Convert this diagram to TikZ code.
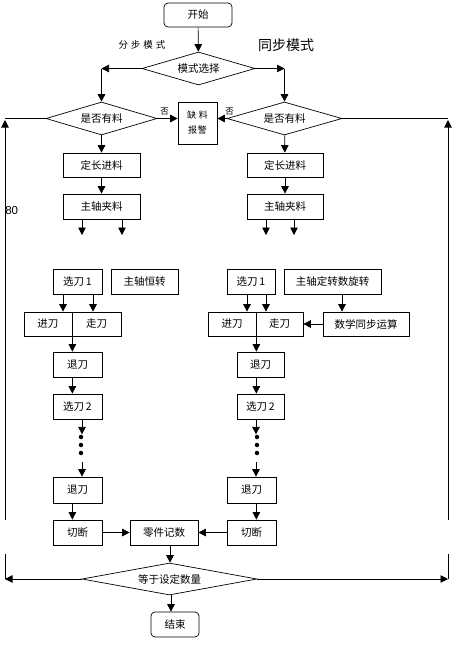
\documentclass[tikz,border=0pt]{standalone}
\usepackage{fontspec}
\setmainfont{Noto Sans CJK SC}
\newfontfamily\latinfont{Liberation Sans}
\usetikzlibrary{arrows.meta, shapes.geometric, calc}
\tikzset{
  box/.style={draw, rectangle, inner sep=0pt, minimum height=25pt, font=\fontsize{10.5}{12}\selectfont},
  term/.style={box, rounded corners=4pt},
  decide/.style={draw, diamond, aspect=3, inner sep=0pt, font=\fontsize{10.5}{12}\selectfont},
  flow/.style={-{Triangle[length=7.5pt,width=7.5pt]}},
  dot/.style={circle, fill, inner sep=0pt, minimum size=4.5pt},
  lbl/.style={inner sep=0pt},
}

\begin{document}
\begin{tikzpicture}[x=1pt, y=-1pt, line width=0.7pt]
  \useasboundingbox (0,0) rectangle (456,649);

  % top: start and mode choice
  \node[term, minimum width=68pt, minimum height=24pt] (start) at (198,15) {开始};
  \node[decide, minimum width=113pt, minimum height=33pt] (mode) at (198.5,68.5) {模式选择};
  \node[lbl, font=\fontsize{9.5}{11}\selectfont] (stepmode) at (142,45) {分\hspace{3pt}步\hspace{3pt}模\hspace{3pt}式};
  \node[lbl, font=\fontsize{14}{15}\selectfont] (syncmode) at (286,45) {同步模式};
  \coordinate (modeL) at (101.5,68.5);
  \coordinate (modeR) at (284.5,68.5);

  \node[decide, minimum width=111pt, minimum height=33pt] (checkL) at (101.5,118.5) {是否有料};
  \node[decide, minimum width=115pt, minimum height=33pt] (checkR) at (284.5,118.5) {是否有料};
  \node[box, minimum width=39pt, minimum height=42pt, align=center, font=\fontsize{9}{15}\selectfont] (alarm) at (197.5,123) {缺\hspace{3pt}料\\报\hspace{1pt}警};
  \node[lbl, font=\fontsize{8.5}{9}\selectfont] (noL) at (164.5,111.5) {否};
  \node[lbl, font=\fontsize{8.5}{9}\selectfont] (noR) at (229.5,111.5) {否};

  \draw[flow] (start) -- (mode);
  \draw[flow] (mode.west) -- (modeL);
  \draw[flow] (modeL) -- (checkL.north);
  \draw[flow] (mode.east) -- (modeR);
  \draw[flow] (modeR) -- (checkR.north);
  \draw[flow] (checkL.east) -- (alarm.west |- checkL.east);
  \draw[flow] (checkR.west) -- (alarm.east |- checkR.west);

  % left column (step mode)
  \node[box, minimum width=77pt, minimum height=24pt] (feedL) at (101.5,165) {定长进料};
  \node[box, minimum width=77pt] (clampL) at (101.5,206.5) {主轴夹料};
  \coordinate (outL1) at (82,235);
  \coordinate (outL2) at (122,235);
  \node[box, minimum width=49pt] (selL) at (77.5,281.5) {选刀\,1};
  \node[box, minimum width=67pt] (turnL) at (144.5,281.5) {主轴恒转};
  \node[box, minimum width=48pt, minimum height=24pt] (inL) at (48,324) {进刀};
  \node[box, minimum width=49pt, minimum height=24pt] (goL) at (96.5,324) {走刀};
  \node[box, minimum width=49pt] (backL) at (77.5,364.5) {退刀};
  \node[box, minimum width=49pt] (selbL) at (77.5,406.5) {选刀\,2};
  \node[dot] (dotL1) at (81,437) {};
  \node[dot] (dotL2) at (81,445) {};
  \node[dot] (dotL3) at (81,453) {};
  \coordinate (gapL) at (82,462);
  \node[box, minimum width=49pt, minimum height=26pt] (backbL) at (77.5,490) {退刀};
  \node[box, minimum width=49pt] (cutL) at (77.5,532.5) {切断};

  \draw[flow] (checkL) -- (feedL);
  \draw[flow] (feedL) -- (clampL);
  \draw[flow] (clampL.south -| outL1) -- (outL1);
  \draw[flow] (clampL.south -| outL2) -- (outL2);
  \draw[flow] (selL.south -| 63,0) -- (inL.north -| 63,0);
  \draw[flow] (selL.south -| 93,0) -- (goL.north -| 93,0);
  \draw[flow] (inL.south east) -- (backL.north -| inL.east);
  \draw[flow] (backL.south -| inL.east) -- (selbL.north -| inL.east);
  \draw[flow] (selbL.south -| gapL) -- (dotL1.north -| gapL);
  \draw[flow] (gapL) -- (backbL.north -| gapL);
  \draw[flow] (backbL.south -| inL.east) -- (cutL.north -| inL.east);

  % right column (sync mode)
  \node[box, minimum width=76pt, minimum height=24pt] (feedR) at (285,165) {定长进料};
  \node[box, minimum width=76pt] (clampR) at (285,206.5) {主轴夹料};
  \coordinate (outR1) at (266,235);
  \coordinate (outR2) at (294,235);
  \node[box, minimum width=48pt] (selR) at (251,281.5) {选刀\,1};
  \node[box, minimum width=97pt] (turnR) at (332.5,281.5) {主轴定转数旋转};
  \node[box, minimum width=48pt, minimum height=24pt] (inR) at (232,324) {进刀};
  \node[box, minimum width=47pt, minimum height=24pt] (goR) at (279.5,324) {走刀};
  \node[box, minimum width=86pt, minimum height=24pt] (calcR) at (366,324) {数学同步运算};
  \node[box, minimum width=47pt] (backR) at (260.5,364.5) {退刀};
  \node[box, minimum width=47pt] (selbR) at (260.5,406.5) {选刀\,2};
  \node[dot] (dotR1) at (257,437) {};
  \node[dot] (dotR2) at (257,445) {};
  \node[dot] (dotR3) at (257,453) {};
  \coordinate (gapR) at (256,462);
  \node[box, minimum width=49pt, minimum height=26pt] (backbR) at (251.5,490) {退刀};
  \node[box, minimum width=49pt] (cutR) at (251.5,532.5) {切断};

  \draw[flow] (checkR) -- (feedR);
  \draw[flow] (feedR) -- (clampR);
  \draw[flow] (clampR.south -| outR1) -- (outR1);
  \draw[flow] (clampR.south -| outR2) -- (outR2);
  \draw[flow] (selR.south -| 247,0) -- (inR.north -| 247,0);
  \draw[flow] (selR.south -| 266,0) -- (goR.north -| 266,0);
  \draw[flow] (turnR.south -| 342,0) -- (calcR.north -| 342,0);
  \draw[flow] (calcR) -- (goR);
  \draw[flow] (inR.south east) -- (backR.north -| inR.east);
  \draw[flow] (backR.south -| inR.east) -- (selbR.north -| inR.east);
  \draw[flow] (selbR.south -| gapR) -- (dotR1.north -| gapR);
  \draw[flow] (gapR) -- (backbR.north -| gapR);
  \draw[flow] (backbR.south -| inR.east) -- (cutR.north -| inR.east);

  % bottom: count and end
  \node[box, minimum width=68pt] (count) at (164,532.5) {零件记数};
  \node[decide, minimum width=175pt, minimum height=32pt] (equal) at (169.5,579) {等于设定数量};
  \node[term, minimum width=48pt] (end) at (175,624.5) {结束};
  \draw[flow] (cutL) -- (count);
  \draw[flow] (cutR) -- (count);
  \draw[flow] (count.south -| 170,0) -- (equal.north -| 170,0);
  \draw[flow] (equal.south -| 171,0) -- (end.north -| 171,0);

  % loops back
  \coordinate (loopBL) at (5,579);
  \coordinate (loopTL) at (5,118.5);
  \coordinate (loopBR) at (448,579);
  \coordinate (loopTR) at (448,118.5);
  \draw[flow] (equal.west) -- (loopBL);
  \draw (loopBL) -- (5,554) (5,520) -- (5,122);
  \draw[flow] (5,124) -- (5,120);
  \draw (loopTL) -- (checkL.west);
  \draw[flow] (equal.east) -- (loopBR);
  \draw (loopBR) -- (448,554) (448,520) -- (448,122);
  \draw[flow] (448,124) -- (448,120);
  \draw (loopTR) -- (checkR.east);
  \node[lbl, anchor=west, font=\latinfont\fontsize{11.5}{13}\selectfont] (num) at (5,211) {80};
\end{tikzpicture}
\end{document}
